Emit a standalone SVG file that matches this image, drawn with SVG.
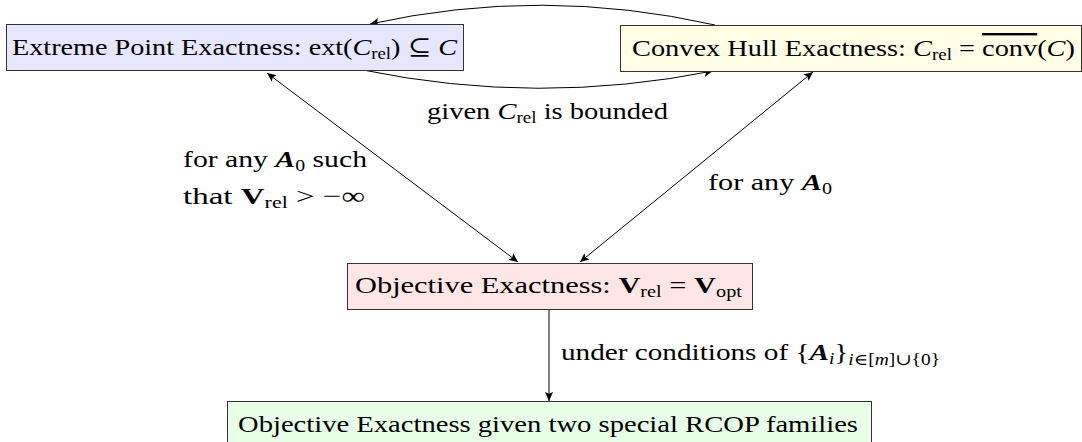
<svg xmlns="http://www.w3.org/2000/svg" width="1082" height="442" viewBox="0 0 1082 442">
<style>
.box{stroke:#333;stroke-width:1}
.t{font-family:"Liberation Serif","DejaVu Serif","Times New Roman",serif;font-size:24px;fill:#000}
.i{font-style:italic}
.b{font-weight:bold}
.s{font-size:16px}
.edge{fill:none;stroke:#000;stroke-width:1}
</style>
<defs>
<marker id="ah" viewBox="0 0 10 10" refX="10" refY="5" markerWidth="9" markerHeight="9" markerUnits="userSpaceOnUse" orient="auto-start-reverse">
<path d="M0,0.5 L10,5 L0,9.5 L2,5 z" fill="#000"/>
</marker>
</defs>
<g id="connectors">
<path class="edge" d="M715,25 Q542,-14 370,24" marker-end="url(#ah)"/>
<path class="edge" d="M363,70 Q538,106 713,71" marker-end="url(#ah)"/>
<line class="edge" x1="267" y1="73" x2="518" y2="262" marker-start="url(#ah)" marker-end="url(#ah)"/>
<line class="edge" x1="813" y1="72" x2="580" y2="262" marker-start="url(#ah)" marker-end="url(#ah)"/>
<line class="edge" x1="549" y1="309" x2="549" y2="401" marker-end="url(#ah)"/>
<text class="t" x="427" y="119" textLength="241" lengthAdjust="spacingAndGlyphs">given <tspan class="i">C</tspan><tspan class="s" dy="4">rel</tspan><tspan dy="-4"> is bounded</tspan></text>
<text class="t" x="183" y="167" textLength="184" lengthAdjust="spacingAndGlyphs">for any <tspan class="i b">A</tspan><tspan class="s" dy="4">0</tspan><tspan dy="-4"> such</tspan></text>
<text class="t" x="183" y="204" textLength="182" lengthAdjust="spacingAndGlyphs">that <tspan class="b">V</tspan><tspan class="s" dy="4">rel</tspan><tspan dy="-4"> &gt; −∞</tspan></text>
<text class="t" x="708" y="190" textLength="124" lengthAdjust="spacingAndGlyphs">for any <tspan class="i b">A</tspan><tspan class="s" dy="4">0</tspan></text>
<text class="t" x="561" y="360" textLength="379" lengthAdjust="spacingAndGlyphs">under conditions of {<tspan class="i b">A</tspan><tspan class="s i" dy="4">i</tspan><tspan dy="-4">}</tspan><tspan class="s" dy="5"><tspan class="i">i</tspan>∈[<tspan class="i">m</tspan>]∪{0}</tspan></text>
</g>
<g id="extreme">
<rect class="box" x="6.5" y="24.5" width="457" height="46" fill="#E6E6FF"/>
<text class="t" x="12" y="55" textLength="445" lengthAdjust="spacingAndGlyphs">Extreme Point Exactness: ext(<tspan class="i">C</tspan><tspan class="s" dy="4">rel</tspan><tspan dy="-4">) ⊆ </tspan><tspan class="i">C</tspan></text>
</g>
<g id="convex">
<rect class="box" x="620.5" y="25.5" width="461" height="46" fill="#FFFDE6"/>
<text class="t" x="632" y="56" textLength="443" lengthAdjust="spacingAndGlyphs">Convex Hull Exactness: <tspan class="i">C</tspan><tspan class="s" dy="4">rel</tspan><tspan dy="-4"> = </tspan><tspan text-decoration="overline">conv</tspan>(<tspan class="i">C</tspan>)</text>
</g>
<g id="objective">
<rect class="box" x="347.5" y="263.5" width="405" height="46" fill="#FFE6E6"/>
<text class="t" x="355" y="293" textLength="387" lengthAdjust="spacingAndGlyphs">Objective Exactness: <tspan class="b">V</tspan><tspan class="s" dy="4">rel</tspan><tspan dy="-4"> = </tspan><tspan class="b">V</tspan><tspan class="s" dy="4">opt</tspan></text>
</g>
<g id="families">
<rect class="box" x="227.5" y="401.5" width="644" height="46" fill="#E6FFE6"/>
<text class="t" x="238" y="432" textLength="620" lengthAdjust="spacingAndGlyphs">Objective Exactness given two special RCOP families</text>
</g>
</svg>
